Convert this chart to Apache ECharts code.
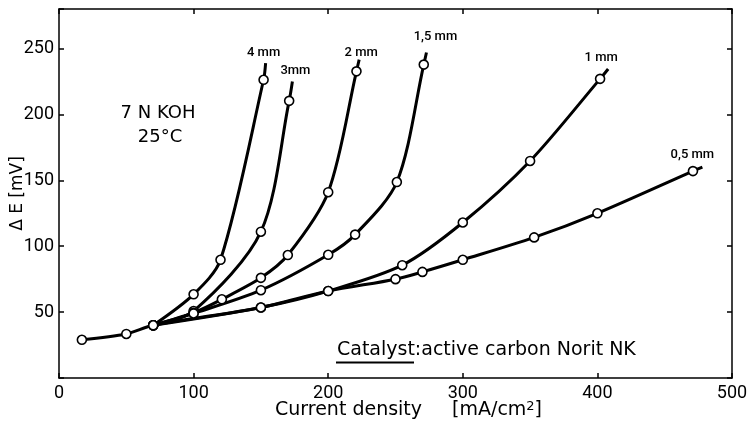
<!DOCTYPE html>
<html><head><meta charset="utf-8">
<script src="https://cdn.jsdelivr.net/npm/echarts@6/dist/echarts.min.js"></script>
<style>html,body{margin:0;padding:0;background:#fff}#c{width:747px;height:426px}</style>
</head><body><div id="c"></div><script>
// curve labels (electrode thickness)
const curveNames = ['4 mm', '3mm', '2 mm', '1,5 mm', '1 mm', '0,5 mm'];
// each series: x = current density [mA/cm2], y = ΔE [mV]; last point is the line tail (no marker)
const x4mm = [70, 100, 120, 152, 153.5];
const y4mm = [40, 63.5, 89.7, 226.3, 239];
const x3mm = [70, 100, 150, 171, 173.4];
const y3mm = [40, 50.8, 111, 210.3, 225];
const x2mm = [70, 100, 121, 150, 170, 200, 221, 223];
const y2mm = [40, 49.5, 59.7, 76, 93.3, 141, 232.7, 241.6];
const x15mm = [70, 100, 150, 200, 220, 251, 271, 273];
const y15mm = [40, 49, 66.6, 93.5, 108.8, 148.7, 237.8, 247];
const x1mm = [70, 150, 200, 255, 300, 350, 402, 408];
const y1mm = [40, 53.5, 66, 85.6, 118, 164.7, 227, 234.5];
const x05mm = [17, 50, 70, 150, 200, 250, 270, 300, 353, 400, 471, 478];
const y05mm = [29, 33.4, 40, 53.5, 66, 75, 80.5, 89.7, 106.7, 125, 157, 160];
// axis ticks
const xTicks = [0, 100, 200, 300, 400, 500];
const yTicks = [50, 100, 150, 200, 250];

const seriesX = [x4mm, x3mm, x2mm, x15mm, x1mm, x05mm];
const seriesY = [y4mm, y3mm, y2mm, y15mm, y1mm, y05mm];
const labelOffsets = [[-2, -10], [3, -11], [2, -7], [9, -16], [-7, -11], [-10, -12]];

const FONT = 'Roboto';
const TFONT = 'DejaVu Sans';
const lines = seriesX.map((xs, i) => ({
  type: 'line',
  name: curveNames[i],
  data: xs.map((x, j) => [x, seriesY[i][j]]),
  smooth: 0.3,
  showSymbol: false,
  lineStyle: { color: '#000', width: 3 },
  z: 2,
  endLabel: {
    show: true, formatter: curveNames[i], align: 'center', verticalAlign: 'middle',
    distance: 0, offset: labelOffsets[i],
    fontFamily: FONT, fontSize: 13, fontWeight: 500, color: '#000'
  }
}));
const markers = {
  type: 'scatter',
  data: seriesX.flatMap((xs, i) => xs.slice(0, -1).map((x, j) => [x, seriesY[i][j]])),
  symbol: 'circle', symbolSize: 9,
  itemStyle: { color: '#fff', borderColor: '#000', borderWidth: 1.6, opacity: 1 },
  z: 5
};

const chart = echarts.init(document.getElementById('c'), null, { renderer: 'canvas' });
const axisCommon = {
  axisLine: { show: true, onZero: false, lineStyle: { color: '#000', width: 1.5 } },
  axisTick: { show: true, inside: true, length: 5, lineStyle: { color: '#000', width: 1.5 } },
  splitLine: { show: false }
};
chart.setOption({
  animation: false,
  backgroundColor: '#fff',
  grid: { left: 59, right: 15, top: 9, bottom: 48, containLabel: false, outerBoundsMode: 'none' },
  xAxis: [
    Object.assign({ type: 'value', min: xTicks[0], max: xTicks[xTicks.length - 1], interval: 100, position: 'bottom',
      axisLabel: { fontFamily: FONT, fontSize: 18, color: '#000', margin: 6 } }, axisCommon),
    Object.assign({ type: 'value', min: xTicks[0], max: xTicks[xTicks.length - 1], interval: 100, position: 'top',
      axisLabel: { show: false } }, axisCommon)
  ],
  yAxis: [
    Object.assign({ type: 'value', min: 0, max: 280, interval: 50, position: 'left',
      name: 'Δ E [mV]', nameLocation: 'middle', nameGap: 33, nameMoveOverlap: false,
      nameTextStyle: { fontFamily: TFONT, fontSize: 17, color: '#000' },
      axisLabel: { fontFamily: FONT, fontSize: 18, color: '#000', margin: 5,
        formatter: v => (yTicks.indexOf(v) >= 0 ? String(v) : '') } }, axisCommon),
    Object.assign({ type: 'value', min: 0, max: 280, interval: 50, position: 'right',
      axisLabel: { show: false } }, axisCommon)
  ],
  series: lines.concat([markers]),
  graphic: [
    { type: 'text', x: 158, y: 113, style: { text: '7 N KOH', fontFamily: TFONT, fontSize: 18, fill: '#000', align: 'center', verticalAlign: 'middle' } },
    { type: 'text', x: 160, y: 137, style: { text: '25°C', fontFamily: TFONT, fontSize: 18, fill: '#000', align: 'center', verticalAlign: 'middle' } },
    { type: 'text', x: 337, y: 350, style: { text: 'Catalyst:active carbon Norit NK', fontFamily: TFONT, fontSize: 19, fill: '#000', align: 'left', verticalAlign: 'middle' } },
    { type: 'line', shape: { x1: 336, y1: 362.5, x2: 414, y2: 362.5 }, style: { stroke: '#000', lineWidth: 2 } },
    { type: 'text', x: 275, y: 410, style: {
        text: '{a|Current density}{g|}{a|[mA/cm}{s|2}{a|]}',
        rich: { a: { fontFamily: TFONT, fontSize: 19, fill: '#000' }, g: { width: 30 }, s: { fontFamily: TFONT, fontSize: 13, fill: '#000', verticalAlign: 'top', padding: [0, 0, 7, 0] } },
        align: 'left', verticalAlign: 'middle' } }
  ]
});
</script></body></html>
